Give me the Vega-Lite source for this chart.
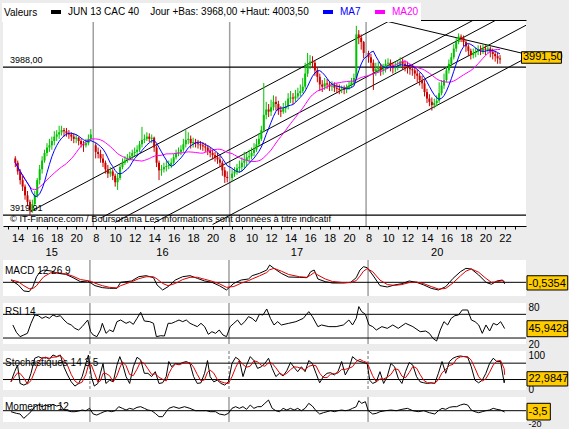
{
"$schema": "https://vega.github.io/schema/vega-lite/v6.json",
"background": "#ececec",
"padding": {"left": 2, "top": 3, "right": 0, "bottom": 0},
"config": {
 "font": "Liberation Sans",
 "view": {"stroke": null, "fill": "white"},
 "axis": {"labelFont": "Liberation Sans", "labelFontSize": 10, "labelColor": "black", "domainColor": "black", "tickColor": "black", "titleFont": "Liberation Sans", "labelOverlap": false},
 "text": {"font": "Liberation Sans", "color": "black"}
},
"datasets": {
 "seps": [{"t": 13.75}, {"t": 27.75}, {"t": 41.75}],
 "levels": [{"v": 3988, "label": "3988,00"}, {"v": 3919.91, "label": "3919,91"}],
 "trend": [
  {"t1": 7.3, "v1": 3921.5, "t2": 60, "v2": 4047},
  {"t1": 14.5, "v1": 3918.5, "t2": 60, "v2": 4026.8},
  {"t1": 16.0, "v1": 3916.6, "t2": 60, "v2": 4021.3},
  {"t1": 20.0, "v1": 3916.4, "t2": 60, "v2": 4011.6},
  {"t1": 26.0, "v1": 3915.6, "t2": 60, "v2": 3996.5},
  {"t1": 43.0, "v1": 4010, "t2": 57.65, "v2": 3994.5}
 ],
 "bars": [
{"t":5.75,"o":3946,"h":3947,"l":3942,"c":3944},
{"t":6,"o":3944,"h":3945,"l":3938.5,"c":3940},
{"t":6.25,"o":3940,"h":3941,"l":3934,"c":3936},
{"t":6.5,"o":3936,"h":3938,"l":3931,"c":3933},
{"t":6.75,"o":3933,"h":3934,"l":3927,"c":3929},
{"t":7,"o":3929,"h":3931,"l":3924,"c":3926},
{"t":7.25,"o":3926,"h":3927,"l":3919.91,"c":3922},
{"t":7.5,"o":3922,"h":3927,"l":3921,"c":3925},
{"t":7.75,"o":3925,"h":3931,"l":3924,"c":3929},
{"t":8,"o":3929,"h":3937,"l":3928,"c":3936},
{"t":8.25,"o":3936,"h":3943,"l":3934,"c":3941},
{"t":8.5,"o":3941,"h":3947,"l":3939,"c":3945},
{"t":8.75,"o":3945,"h":3950,"l":3944,"c":3948.5},
{"t":9,"o":3948.5,"h":3953,"l":3947,"c":3951},
{"t":9.25,"o":3951,"h":3955,"l":3949,"c":3952},
{"t":9.5,"o":3952,"h":3956,"l":3950,"c":3954},
{"t":9.75,"o":3954,"h":3958.5,"l":3952,"c":3956},
{"t":10,"o":3956,"h":3959,"l":3954,"c":3957},
{"t":10.25,"o":3957,"h":3961,"l":3955,"c":3958},
{"t":10.5,"o":3958,"h":3961,"l":3956.5,"c":3959},
{"t":10.75,"o":3959,"h":3960,"l":3956,"c":3958.5},
{"t":11,"o":3958.5,"h":3960,"l":3956,"c":3957.5},
{"t":11.25,"o":3957.5,"h":3959,"l":3955,"c":3957},
{"t":11.5,"o":3957,"h":3958,"l":3954,"c":3956},
{"t":11.75,"o":3956,"h":3957.5,"l":3953,"c":3955},
{"t":12,"o":3955,"h":3957,"l":3953,"c":3955.5},
{"t":12.25,"o":3955.5,"h":3956,"l":3952,"c":3954},
{"t":12.5,"o":3954,"h":3955,"l":3951,"c":3952.5},
{"t":12.75,"o":3952.5,"h":3954,"l":3949,"c":3952},
{"t":13,"o":3952,"h":3955,"l":3951,"c":3953},
{"t":13.25,"o":3953,"h":3957,"l":3952,"c":3955},
{"t":13.5,"o":3955,"h":3959.5,"l":3954,"c":3957},
{"t":14,"o":3952,"h":3953,"l":3946,"c":3949},
{"t":14.25,"o":3949,"h":3951,"l":3946,"c":3948},
{"t":14.5,"o":3948,"h":3950,"l":3944,"c":3946},
{"t":14.75,"o":3946,"h":3948,"l":3942,"c":3944},
{"t":15,"o":3944,"h":3945,"l":3939,"c":3941},
{"t":15.25,"o":3941,"h":3943,"l":3937,"c":3939},
{"t":15.5,"o":3939,"h":3942,"l":3937.5,"c":3940},
{"t":15.75,"o":3940,"h":3941,"l":3936,"c":3938},
{"t":16,"o":3938,"h":3939,"l":3933,"c":3935},
{"t":16.25,"o":3935,"h":3939,"l":3931.5,"c":3937},
{"t":16.5,"o":3937,"h":3943,"l":3936,"c":3942},
{"t":16.75,"o":3942,"h":3946,"l":3941,"c":3944},
{"t":17,"o":3944,"h":3947,"l":3943,"c":3945},
{"t":17.25,"o":3945,"h":3948,"l":3944,"c":3946},
{"t":17.5,"o":3946,"h":3949,"l":3945,"c":3947},
{"t":17.75,"o":3947,"h":3950,"l":3945.5,"c":3948.5},
{"t":18,"o":3948.5,"h":3951,"l":3947,"c":3949},
{"t":18.25,"o":3949,"h":3952,"l":3948,"c":3950},
{"t":18.5,"o":3950,"h":3954,"l":3949,"c":3952.5},
{"t":18.75,"o":3952.5,"h":3960.5,"l":3951,"c":3954.5},
{"t":19,"o":3954.5,"h":3957,"l":3953,"c":3955},
{"t":19.25,"o":3955,"h":3958,"l":3954,"c":3956},
{"t":19.5,"o":3956,"h":3957.5,"l":3953.5,"c":3955},
{"t":19.75,"o":3955,"h":3957,"l":3953,"c":3955.5},
{"t":20,"o":3955.5,"h":3956,"l":3949,"c":3951},
{"t":20.25,"o":3951,"h":3952,"l":3942,"c":3944},
{"t":20.5,"o":3944,"h":3945,"l":3936,"c":3940.5},
{"t":20.75,"o":3940.5,"h":3943,"l":3938,"c":3941},
{"t":21,"o":3941,"h":3944,"l":3939.5,"c":3942},
{"t":21.25,"o":3942,"h":3945,"l":3940,"c":3942.5},
{"t":21.5,"o":3942.5,"h":3945,"l":3941,"c":3943},
{"t":21.75,"o":3943,"h":3946,"l":3941.5,"c":3944},
{"t":22,"o":3944,"h":3948,"l":3943,"c":3946.5},
{"t":22.25,"o":3946.5,"h":3950,"l":3945.5,"c":3948.5},
{"t":22.5,"o":3948.5,"h":3951,"l":3947,"c":3949},
{"t":22.75,"o":3949,"h":3952,"l":3947.5,"c":3950},
{"t":23,"o":3950,"h":3955,"l":3949,"c":3952.5},
{"t":23.25,"o":3952.5,"h":3959,"l":3951,"c":3954.5},
{"t":23.5,"o":3954.5,"h":3958,"l":3952.5,"c":3955},
{"t":23.75,"o":3955,"h":3956.5,"l":3950.5,"c":3953},
{"t":24,"o":3953,"h":3955.5,"l":3951,"c":3953.5},
{"t":24.25,"o":3953.5,"h":3955,"l":3951,"c":3953},
{"t":24.5,"o":3953,"h":3954.5,"l":3950.5,"c":3952.5},
{"t":24.75,"o":3952.5,"h":3954,"l":3950,"c":3952},
{"t":25,"o":3952,"h":3953.5,"l":3949.5,"c":3951.5},
{"t":25.25,"o":3951.5,"h":3953,"l":3949,"c":3951},
{"t":25.5,"o":3951,"h":3952,"l":3947.5,"c":3949.5},
{"t":25.75,"o":3949.5,"h":3951,"l":3946.5,"c":3948.5},
{"t":26,"o":3948.5,"h":3950,"l":3945.5,"c":3947.5},
{"t":26.25,"o":3947.5,"h":3949,"l":3944.5,"c":3946.5},
{"t":26.5,"o":3946.5,"h":3948.5,"l":3943.5,"c":3945.5},
{"t":26.75,"o":3945.5,"h":3947,"l":3942,"c":3944},
{"t":27,"o":3944,"h":3945,"l":3938,"c":3940.5},
{"t":27.25,"o":3940.5,"h":3942,"l":3934.7,"c":3937.5},
{"t":27.5,"o":3937.5,"h":3940,"l":3935,"c":3937},
{"t":28,"o":3937,"h":3941,"l":3935.5,"c":3939},
{"t":28.25,"o":3939,"h":3942,"l":3937.5,"c":3940},
{"t":28.5,"o":3940,"h":3943.5,"l":3938.5,"c":3941.5},
{"t":28.75,"o":3941.5,"h":3945,"l":3939.5,"c":3942},
{"t":29,"o":3942,"h":3946.5,"l":3940,"c":3944},
{"t":29.25,"o":3944,"h":3949,"l":3941,"c":3945},
{"t":29.5,"o":3945,"h":3948.5,"l":3942.5,"c":3946.5},
{"t":29.75,"o":3946.5,"h":3950,"l":3944,"c":3947},
{"t":30,"o":3947,"h":3951,"l":3945.5,"c":3948.5},
{"t":30.25,"o":3948.5,"h":3953,"l":3947,"c":3950},
{"t":30.5,"o":3950,"h":3955,"l":3949,"c":3952.5},
{"t":30.75,"o":3952.5,"h":3957.5,"l":3951.5,"c":3955},
{"t":31,"o":3955,"h":3961,"l":3954,"c":3959},
{"t":31.25,"o":3959,"h":3980.7,"l":3958,"c":3966},
{"t":31.5,"o":3966,"h":3972,"l":3964,"c":3968.5},
{"t":31.75,"o":3968.5,"h":3971,"l":3965,"c":3967.5},
{"t":32,"o":3967.5,"h":3973,"l":3965.5,"c":3969.5},
{"t":32.25,"o":3969.5,"h":3975,"l":3968,"c":3972},
{"t":32.5,"o":3972,"h":3974.5,"l":3968,"c":3971},
{"t":32.75,"o":3971,"h":3972.5,"l":3966,"c":3968},
{"t":33,"o":3968,"h":3970,"l":3965,"c":3967.5},
{"t":33.25,"o":3967.5,"h":3971.5,"l":3966.5,"c":3969},
{"t":33.5,"o":3969,"h":3972.5,"l":3967,"c":3970},
{"t":33.75,"o":3970,"h":3976,"l":3968.5,"c":3973.5},
{"t":34,"o":3973.5,"h":3977,"l":3971.5,"c":3974},
{"t":34.25,"o":3974,"h":3976,"l":3971,"c":3973.5},
{"t":34.5,"o":3973.5,"h":3977.5,"l":3972,"c":3974.5},
{"t":34.75,"o":3974.5,"h":3978.5,"l":3973.5,"c":3976},
{"t":35,"o":3976,"h":3980,"l":3974.5,"c":3977},
{"t":35.25,"o":3977,"h":3983,"l":3976,"c":3979},
{"t":35.5,"o":3979,"h":3990,"l":3978,"c":3985},
{"t":35.75,"o":3985,"h":3994.5,"l":3983.5,"c":3989},
{"t":36,"o":3989,"h":3993.5,"l":3987,"c":3990.5},
{"t":36.25,"o":3990.5,"h":3993,"l":3987.5,"c":3990},
{"t":36.5,"o":3990,"h":3991,"l":3984,"c":3986.5},
{"t":36.75,"o":3986.5,"h":3988,"l":3981,"c":3983.5},
{"t":37,"o":3983.5,"h":3985,"l":3977,"c":3980},
{"t":37.25,"o":3980,"h":3982,"l":3976.5,"c":3979},
{"t":37.5,"o":3979,"h":3983,"l":3977.5,"c":3980.5},
{"t":37.75,"o":3980.5,"h":3982.5,"l":3978,"c":3980},
{"t":38,"o":3980,"h":3981.5,"l":3977,"c":3979},
{"t":38.25,"o":3979,"h":3981.5,"l":3977,"c":3979.5},
{"t":38.5,"o":3979.5,"h":3981,"l":3976.5,"c":3978.5},
{"t":38.75,"o":3978.5,"h":3980.5,"l":3976,"c":3978},
{"t":39,"o":3978,"h":3980,"l":3975.5,"c":3977.5},
{"t":39.25,"o":3977.5,"h":3979.5,"l":3976,"c":3978},
{"t":39.5,"o":3978,"h":3979.5,"l":3975.5,"c":3977.5},
{"t":39.75,"o":3977.5,"h":3980,"l":3976,"c":3978.5},
{"t":40,"o":3978.5,"h":3981.5,"l":3977.5,"c":3979.5},
{"t":40.25,"o":3979.5,"h":3983,"l":3978.5,"c":3981},
{"t":40.5,"o":3981,"h":3985,"l":3980,"c":3983},
{"t":40.75,"o":3983,"h":4007,"l":3982,"c":4003},
{"t":41,"o":4003,"h":4005,"l":3998.5,"c":4001.5},
{"t":41.25,"o":4001.5,"h":4003,"l":3996,"c":3999.5},
{"t":41.5,"o":3999.5,"h":4000,"l":3992,"c":3994.5},
{"t":42,"o":3994.5,"h":3995.5,"l":3990,"c":3992.5},
{"t":42.25,"o":3992.5,"h":3994,"l":3987.5,"c":3990},
{"t":42.5,"o":3990,"h":3991.5,"l":3977.5,"c":3986},
{"t":42.75,"o":3986,"h":3990,"l":3984,"c":3987},
{"t":43,"o":3987,"h":3990.5,"l":3985.5,"c":3988},
{"t":43.25,"o":3988,"h":3989.5,"l":3984,"c":3986.5},
{"t":43.5,"o":3986.5,"h":3989.5,"l":3984.5,"c":3987},
{"t":43.75,"o":3987,"h":3991.5,"l":3985.5,"c":3989.5},
{"t":44,"o":3989.5,"h":3992,"l":3987.5,"c":3990},
{"t":44.25,"o":3990,"h":3991.5,"l":3986,"c":3988.5},
{"t":44.5,"o":3988.5,"h":3990,"l":3985,"c":3987.5},
{"t":44.75,"o":3987.5,"h":3990.5,"l":3985.5,"c":3988},
{"t":45,"o":3988,"h":3991,"l":3986.5,"c":3989},
{"t":45.25,"o":3989,"h":3992.5,"l":3987.5,"c":3990.5},
{"t":45.5,"o":3990.5,"h":3992,"l":3987,"c":3989.5},
{"t":45.75,"o":3989.5,"h":3991,"l":3986,"c":3988.5},
{"t":46,"o":3988.5,"h":3990.5,"l":3985,"c":3988},
{"t":46.25,"o":3988,"h":3989.5,"l":3984.5,"c":3987},
{"t":46.5,"o":3987,"h":3989,"l":3984,"c":3986.5},
{"t":46.75,"o":3986.5,"h":3988,"l":3982.5,"c":3985},
{"t":47,"o":3985,"h":3987,"l":3981,"c":3984},
{"t":47.25,"o":3984,"h":3985.5,"l":3979.5,"c":3982},
{"t":47.5,"o":3982,"h":3984,"l":3978,"c":3980.5},
{"t":47.75,"o":3980.5,"h":3982,"l":3974.5,"c":3976.5},
{"t":48,"o":3976.5,"h":3978,"l":3971.5,"c":3973.5},
{"t":48.25,"o":3973.5,"h":3975.5,"l":3970,"c":3972},
{"t":48.5,"o":3972,"h":3974,"l":3968,"c":3970.5},
{"t":48.75,"o":3970.5,"h":3973.5,"l":3969,"c":3971.5},
{"t":49,"o":3971.5,"h":3975,"l":3970,"c":3972.5},
{"t":49.25,"o":3972.5,"h":3981,"l":3971.5,"c":3976},
{"t":49.5,"o":3976,"h":3982,"l":3975,"c":3979.5},
{"t":49.75,"o":3979.5,"h":3985,"l":3978,"c":3982},
{"t":50,"o":3982,"h":3988,"l":3981,"c":3986.5},
{"t":50.25,"o":3986.5,"h":3991.5,"l":3985,"c":3989.5},
{"t":50.5,"o":3989.5,"h":3994.5,"l":3988,"c":3992.5},
{"t":50.75,"o":3992.5,"h":3998.5,"l":3991.5,"c":3996.5},
{"t":51,"o":3996.5,"h":4001.5,"l":3995,"c":3999.5},
{"t":51.25,"o":3999.5,"h":4003.5,"l":3998.5,"c":4002},
{"t":51.5,"o":4002,"h":4003,"l":3999.5,"c":4001.5},
{"t":51.75,"o":4001.5,"h":4002.5,"l":3997.5,"c":3999.5},
{"t":52,"o":3999.5,"h":4000.5,"l":3995,"c":3997.5},
{"t":52.25,"o":3997.5,"h":3998.5,"l":3993,"c":3995.5},
{"t":52.5,"o":3995.5,"h":3996.5,"l":3991.5,"c":3993.5},
{"t":52.75,"o":3993.5,"h":3996.5,"l":3992,"c":3994.5},
{"t":53,"o":3994.5,"h":3997,"l":3992.5,"c":3995},
{"t":53.25,"o":3995,"h":3998,"l":3993.5,"c":3996},
{"t":53.5,"o":3996,"h":3998,"l":3993.5,"c":3995.5},
{"t":53.75,"o":3995.5,"h":3998.5,"l":3994,"c":3996.5},
{"t":54,"o":3996.5,"h":3998,"l":3993.5,"c":3996},
{"t":54.25,"o":3996,"h":3998.5,"l":3994.5,"c":3996.5},
{"t":54.5,"o":3996.5,"h":3997.5,"l":3992.5,"c":3995},
{"t":54.75,"o":3995,"h":3996.5,"l":3991.5,"c":3994},
{"t":55,"o":3994,"h":3995.5,"l":3990.5,"c":3993},
{"t":55.25,"o":3993,"h":3994.5,"l":3989.5,"c":3992},
{"t":55.5,"o":3992,"h":3993.5,"l":3989.5,"c":3991.5}
 ],
 "macd": [
{"t":5.8,"m":0.83,"s":0.9},{"t":6.54,"m":-0.95,"s":0.2},{"t":7.09,"m":-3.1,"s":-1.2},{"t":7.64,"m":-3.33,"s":-2.3},{"t":8.01,"m":-1.55,"s":-2.2},{"t":8.38,"m":2.02,"s":-1.2},{"t":8.74,"m":3.81,"s":0.5},{"t":9.11,"m":4.4,"s":2.0},{"t":9.85,"m":4.05,"s":3.5},{"t":10.58,"m":3.21,"s":3.4},{"t":11.32,"m":2.86,"s":3.0},{"t":12.05,"m":1.67,"s":2.2},{"t":12.79,"m":0.24,"s":1.0},{"t":13.53,"m":0.48,"s":0.6},{"t":13.89,"m":-0.36,"s":0.3},{"t":14.26,"m":-1.19,"s":-0.3},{"t":15.0,"m":-1.9,"s":-1.2},{"t":15.73,"m":-2.14,"s":-1.8},{"t":16.47,"m":-2.14,"s":-2.0},{"t":16.84,"m":0,"s":-1.2},{"t":17.94,"m":0.48,"s":0.2},{"t":18.67,"m":2.02,"s":1.3},{"t":19.41,"m":2.38,"s":2.0},{"t":20.15,"m":1.67,"s":2.0},{"t":20.51,"m":-0.95,"s":1.2},{"t":21.07,"m":-2.74,"s":-0.4},{"t":21.62,"m":-1.55,"s":-1.2},{"t":22.35,"m":0.83,"s":-0.4},{"t":23.09,"m":2.02,"s":1.0},{"t":23.83,"m":2.38,"s":1.8},{"t":24.56,"m":1.43,"s":1.8},{"t":25.3,"m":0.48,"s":1.1},{"t":26.03,"m":0,"s":0.4},{"t":26.77,"m":-1.19,"s":-0.5},{"t":27.5,"m":-2.74,"s":-1.8},{"t":28.24,"m":-0.36,"s":-1.5},{"t":28.98,"m":0.83,"s":-0.3},{"t":29.71,"m":1.19,"s":0.6},{"t":30.08,"m":2.38,"s":1.2},{"t":30.81,"m":3.21,"s":2.3},{"t":31.55,"m":4.4,"s":3.5},{"t":31.84,"m":6.19,"s":4.5},{"t":32.28,"m":5.0,"s":5.0},{"t":33.02,"m":3.21,"s":4.0},{"t":33.76,"m":1.9,"s":2.8},{"t":34.86,"m":1.79,"s":2.0},{"t":35.6,"m":1.67,"s":1.8},{"t":35.97,"m":3.81,"s":2.6},{"t":36.33,"m":4.4,"s":3.5},{"t":36.7,"m":1.19,"s":2.6},{"t":37.44,"m":0.24,"s":1.2},{"t":38.17,"m":-0.24,"s":0.3},{"t":39.27,"m":-0.24,"s":-0.1},{"t":40.01,"m":0,"s":-0.1},{"t":40.56,"m":1.67,"s":0.6},{"t":40.93,"m":4.4,"s":2.2},{"t":41.29,"m":5.6,"s":4.0},{"t":41.66,"m":5.24,"s":4.9},{"t":42.22,"m":2.62,"s":3.8},{"t":42.95,"m":-1.19,"s":0.8},{"t":43.69,"m":-1.67,"s":-0.8},{"t":44.42,"m":-0.95,"s":-1.1},{"t":45.16,"m":-0.48,"s":-0.8},{"t":45.89,"m":0.48,"s":-0.1},{"t":46.63,"m":0,"s":0.1},{"t":47.37,"m":-0.95,"s":-0.5},{"t":48.1,"m":-2.14,"s":-1.5},{"t":48.84,"m":-2.74,"s":-2.4},{"t":49.57,"m":-1.55,"s":-2.2},{"t":50.31,"m":1.43,"s":-0.2},{"t":51.05,"m":3.81,"s":2.3},{"t":51.6,"m":5.0,"s":4.0},{"t":52.15,"m":4.76,"s":4.8},{"t":52.89,"m":2.62,"s":3.6},{"t":53.62,"m":0,"s":1.4},{"t":54.17,"m":-0.71,"s":0.0},{"t":54.73,"m":0.48,"s":0.2},{"t":55.28,"m":0.83,"s":0.6},{"t":55.5,"m":-0.54,"s":0.3}
 ],
 "rsi": [
{"t":5.99,"r":52.0},{"t":6.35,"r":39.6},{"t":6.72,"r":32.3},{"t":7.09,"r":35.1},{"t":7.46,"r":37.9},{"t":7.82,"r":54.8},{"t":8.19,"r":68.9},{"t":8.56,"r":67.7},{"t":8.93,"r":63.2},{"t":9.3,"r":66.1},{"t":9.66,"r":63.2},{"t":10.03,"r":68.9},{"t":10.4,"r":66.1},{"t":10.77,"r":67.7},{"t":11.14,"r":60.4},{"t":11.5,"r":54.8},{"t":11.87,"r":52.0},{"t":12.24,"r":46.3},{"t":12.61,"r":43.5},{"t":12.97,"r":49.2},{"t":13.53,"r":60.4},{"t":13.82,"r":40.7},{"t":14.08,"r":35.1},{"t":14.45,"r":32.3},{"t":14.81,"r":43.5},{"t":15.0,"r":54.8},{"t":15.37,"r":37.9},{"t":15.73,"r":43.5},{"t":16.1,"r":40.7},{"t":16.47,"r":57.6},{"t":16.84,"r":60.4},{"t":17.39,"r":54.8},{"t":17.76,"r":57.6},{"t":18.12,"r":53.1},{"t":18.49,"r":63.2},{"t":18.86,"r":73.4},{"t":19.23,"r":58.7},{"t":19.78,"r":57.6},{"t":20.15,"r":54.8},{"t":20.44,"r":32.3},{"t":20.88,"r":33.9},{"t":21.25,"r":33.4},{"t":21.62,"r":54.8},{"t":21.98,"r":54.8},{"t":22.35,"r":57.6},{"t":22.72,"r":60.4},{"t":23.09,"r":57.6},{"t":23.45,"r":60.4},{"t":23.83,"r":54.8},{"t":24.19,"r":52.0},{"t":24.56,"r":49.2},{"t":24.93,"r":54.8},{"t":25.3,"r":49.2},{"t":25.67,"r":36.2},{"t":26.03,"r":40.7},{"t":26.4,"r":37.9},{"t":26.77,"r":43.5},{"t":27.14,"r":35.1},{"t":27.5,"r":32.3},{"t":27.87,"r":49.2},{"t":28.24,"r":54.8},{"t":28.61,"r":60.4},{"t":28.98,"r":52.0},{"t":29.34,"r":57.6},{"t":29.71,"r":66.1},{"t":30.08,"r":63.2},{"t":30.45,"r":57.6},{"t":30.81,"r":70.0},{"t":31.18,"r":68.9},{"t":31.55,"r":79.0},{"t":31.92,"r":63.2},{"t":32.28,"r":52.0},{"t":32.65,"r":57.6},{"t":33.02,"r":52.0},{"t":33.76,"r":54.8},{"t":34.49,"r":57.6},{"t":35.23,"r":63.2},{"t":35.78,"r":74.5},{"t":36.15,"r":66.1},{"t":36.7,"r":49.2},{"t":37.07,"r":52.0},{"t":37.8,"r":49.2},{"t":38.54,"r":49.2},{"t":39.27,"r":52.0},{"t":39.82,"r":60.4},{"t":40.19,"r":52.0},{"t":40.56,"r":63.2},{"t":40.82,"r":83.0},{"t":41.11,"r":74.5},{"t":41.48,"r":70.0},{"t":41.85,"r":52.0},{"t":42.22,"r":49.2},{"t":42.58,"r":43.5},{"t":43.14,"r":49.2},{"t":43.69,"r":46.3},{"t":44.24,"r":52.0},{"t":44.79,"r":46.3},{"t":45.53,"r":54.8},{"t":46.26,"r":49.2},{"t":47.0,"r":40.7},{"t":47.55,"r":41.8},{"t":47.92,"r":37.9},{"t":48.29,"r":29.4},{"t":48.65,"r":24.9},{"t":49.02,"r":43.5},{"t":49.39,"r":57.6},{"t":49.76,"r":52.0},{"t":50.12,"r":63.2},{"t":50.49,"r":67.7},{"t":50.86,"r":68.9},{"t":51.23,"r":77.3},{"t":51.78,"r":77.3},{"t":52.15,"r":60.4},{"t":52.52,"r":57.6},{"t":52.89,"r":52.0},{"t":53.25,"r":37.9},{"t":53.62,"r":52.0},{"t":53.99,"r":41.8},{"t":54.36,"r":54.8},{"t":54.73,"r":52.0},{"t":55.1,"r":57.6},{"t":55.5,"r":45.94}
 ],
 "stoch": [
{"t":5.8,"k":18},{"t":6.17,"k":49},{"t":6.46,"k":69},{"t":6.72,"k":13},{"t":7.09,"k":8},{"t":7.46,"k":13},{"t":7.82,"k":44},{"t":8.19,"k":90},{"t":8.56,"k":95},{"t":8.93,"k":90},{"t":9.3,"k":93},{"t":9.66,"k":87},{"t":10.03,"k":100},{"t":10.4,"k":95},{"t":10.77,"k":100},{"t":11.13,"k":64},{"t":11.5,"k":39},{"t":11.87,"k":18},{"t":12.24,"k":5},{"t":12.61,"k":13},{"t":12.97,"k":34},{"t":13.34,"k":74},{"t":13.6,"k":100},{"t":13.89,"k":34},{"t":14.19,"k":5},{"t":14.55,"k":13},{"t":14.81,"k":44},{"t":15.07,"k":74},{"t":15.36,"k":13},{"t":15.73,"k":23},{"t":16.1,"k":18},{"t":16.47,"k":69},{"t":16.76,"k":95},{"t":17.02,"k":74},{"t":17.39,"k":34},{"t":17.75,"k":13},{"t":18.12,"k":64},{"t":18.49,"k":93},{"t":18.86,"k":85},{"t":19.23,"k":44},{"t":19.59,"k":44},{"t":19.96,"k":34},{"t":20.33,"k":49},{"t":20.7,"k":13},{"t":21.07,"k":15},{"t":21.43,"k":34},{"t":21.69,"k":80},{"t":21.98,"k":64},{"t":22.35,"k":74},{"t":22.72,"k":72},{"t":23.09,"k":77},{"t":23.46,"k":80},{"t":23.82,"k":74},{"t":24.19,"k":34},{"t":24.56,"k":13},{"t":24.93,"k":15},{"t":25.29,"k":44},{"t":25.59,"k":83},{"t":25.85,"k":34},{"t":26.21,"k":18},{"t":26.58,"k":23},{"t":26.95,"k":13},{"t":27.32,"k":8},{"t":27.69,"k":18},{"t":28.05,"k":74},{"t":28.42,"k":93},{"t":28.79,"k":85},{"t":29.16,"k":34},{"t":29.52,"k":69},{"t":29.89,"k":95},{"t":30.26,"k":83},{"t":30.63,"k":59},{"t":31.0,"k":64},{"t":31.36,"k":74},{"t":31.73,"k":90},{"t":32.1,"k":59},{"t":32.47,"k":34},{"t":32.83,"k":44},{"t":33.2,"k":36},{"t":33.57,"k":52},{"t":33.94,"k":77},{"t":34.31,"k":62},{"t":34.67,"k":49},{"t":35.04,"k":64},{"t":35.41,"k":49},{"t":35.78,"k":83},{"t":36.14,"k":74},{"t":36.51,"k":44},{"t":36.88,"k":15},{"t":37.25,"k":34},{"t":37.62,"k":44},{"t":37.98,"k":46},{"t":38.35,"k":39},{"t":38.72,"k":49},{"t":39.09,"k":80},{"t":39.46,"k":39},{"t":39.82,"k":59},{"t":40.19,"k":95},{"t":40.56,"k":85},{"t":40.93,"k":80},{"t":41.29,"k":77},{"t":41.66,"k":74},{"t":41.92,"k":23},{"t":42.21,"k":13},{"t":42.58,"k":18},{"t":42.95,"k":49},{"t":43.32,"k":13},{"t":43.68,"k":34},{"t":44.05,"k":74},{"t":44.42,"k":64},{"t":44.79,"k":29},{"t":45.16,"k":13},{"t":45.52,"k":49},{"t":45.89,"k":77},{"t":46.26,"k":69},{"t":46.63,"k":34},{"t":46.99,"k":18},{"t":47.36,"k":15},{"t":47.73,"k":13},{"t":48.1,"k":15},{"t":48.47,"k":13},{"t":48.83,"k":44},{"t":49.2,"k":80},{"t":49.57,"k":44},{"t":49.94,"k":80},{"t":50.3,"k":90},{"t":50.67,"k":95},{"t":51.04,"k":97},{"t":51.41,"k":95},{"t":51.78,"k":93},{"t":52.14,"k":64},{"t":52.51,"k":23},{"t":52.88,"k":15},{"t":53.25,"k":23},{"t":53.61,"k":44},{"t":53.98,"k":74},{"t":54.35,"k":90},{"t":54.72,"k":80},{"t":55.09,"k":80},{"t":55.45,"k":15},{"t":55.5,"k":22.98}
 ],
 "mom": [
{"t":5.8,"m":-2.4},{"t":6.35,"m":-6.5},{"t":6.72,"m":-8.1},{"t":7.09,"m":-18.7},{"t":7.46,"m":-10.6},{"t":7.82,"m":-2.4},{"t":8.19,"m":9.8},{"t":8.56,"m":13.8},{"t":8.93,"m":9.8},{"t":9.3,"m":13.8},{"t":9.66,"m":9.8},{"t":10.03,"m":15.4},{"t":10.4,"m":11.4},{"t":10.77,"m":13.8},{"t":11.13,"m":1.6},{"t":11.5,"m":0},{"t":11.87,"m":-2.4},{"t":12.24,"m":-2.4},{"t":12.61,"m":-0.8},{"t":12.97,"m":1.6},{"t":13.34,"m":0},{"t":13.71,"m":5.7},{"t":14.08,"m":-8.1},{"t":14.44,"m":-10.6},{"t":14.81,"m":-6.5},{"t":15.18,"m":-2.4},{"t":15.55,"m":0},{"t":15.92,"m":-2.4},{"t":16.28,"m":0},{"t":16.65,"m":9.8},{"t":17.02,"m":5.7},{"t":17.39,"m":1.6},{"t":17.75,"m":5.7},{"t":18.12,"m":3.3},{"t":18.49,"m":8.1},{"t":18.86,"m":9.8},{"t":19.23,"m":5.7},{"t":19.59,"m":1.6},{"t":19.96,"m":0},{"t":20.33,"m":-6.5},{"t":20.7,"m":-14.6},{"t":21.07,"m":-14.6},{"t":21.43,"m":-2.4},{"t":21.69,"m":5.7},{"t":22.17,"m":9.8},{"t":22.72,"m":5.7},{"t":23.27,"m":9.8},{"t":23.82,"m":5.7},{"t":24.37,"m":0},{"t":24.93,"m":0},{"t":25.48,"m":0},{"t":25.85,"m":-2.4},{"t":26.4,"m":-2.4},{"t":26.77,"m":-8.1},{"t":27.32,"m":-10.6},{"t":27.69,"m":-6.5},{"t":28.05,"m":5.7},{"t":28.42,"m":9.8},{"t":28.79,"m":5.7},{"t":29.16,"m":9.8},{"t":29.52,"m":3.3},{"t":29.89,"m":13.8},{"t":30.26,"m":5.7},{"t":30.63,"m":9.8},{"t":31.0,"m":9.8},{"t":31.36,"m":17.9},{"t":31.73,"m":26.0},{"t":32.1,"m":5.7},{"t":32.47,"m":0},{"t":32.83,"m":-2.4},{"t":33.2,"m":5.7},{"t":33.57,"m":1.6},{"t":33.94,"m":5.7},{"t":34.31,"m":1.6},{"t":34.67,"m":5.7},{"t":35.04,"m":0},{"t":35.41,"m":5.7},{"t":35.78,"m":17.9},{"t":36.14,"m":11.4},{"t":36.51,"m":0},{"t":36.88,"m":-8.1},{"t":37.25,"m":-4.9},{"t":37.62,"m":-2.4},{"t":37.98,"m":0},{"t":38.35,"m":-2.4},{"t":38.72,"m":0},{"t":39.09,"m":1.6},{"t":39.46,"m":0},{"t":39.82,"m":1.6},{"t":40.19,"m":5.7},{"t":40.56,"m":9.8},{"t":40.82,"m":24.4},{"t":41.11,"m":17.9},{"t":41.48,"m":22.0},{"t":41.77,"m":0},{"t":42.21,"m":-8.1},{"t":42.58,"m":-6.5},{"t":42.95,"m":-2.4},{"t":43.5,"m":0},{"t":44.05,"m":1.6},{"t":44.6,"m":0},{"t":45.16,"m":3.3},{"t":45.71,"m":5.7},{"t":46.26,"m":0},{"t":46.81,"m":-2.4},{"t":47.36,"m":0},{"t":47.92,"m":-4.9},{"t":48.47,"m":-8.1},{"t":48.83,"m":0},{"t":49.2,"m":5.7},{"t":49.57,"m":3.3},{"t":49.94,"m":8.1},{"t":50.3,"m":9.8},{"t":50.67,"m":9.8},{"t":51.04,"m":13.8},{"t":51.41,"m":16.3},{"t":51.78,"m":13.8},{"t":52.14,"m":1.6},{"t":52.51,"m":-2.4},{"t":52.88,"m":-4.9},{"t":53.25,"m":-2.4},{"t":53.61,"m":0},{"t":53.98,"m":1.6},{"t":54.35,"m":5.7},{"t":54.72,"m":3.3},{"t":55.09,"m":1.6},{"t":55.45,"m":-2.4},{"t":55.5,"m":-3.5}
 ]
},
"bounds": "flush",
"spacing": 34,
"vconcat": [
 {
  "width": 523, "height": 206,
  "resolve": {"axis": {"x": "independent"}},
  "layer": [
   {"data": {"name": "seps"}, "mark": {"type": "rule", "color": "#a0a0a0", "strokeWidth": 1.5},
    "encoding": {"x": {"field": "t", "type": "quantitative", "scale": {"domain": [5, 57.65], "nice": false, "zero": false},
      "axis": {"orient": "top", "domain": true, "domainColor": "black", "ticks": false, "labels": false, "title": null, "grid": false}}}},
   {"data": {"name": "levels"}, "mark": {"type": "rule", "color": "black", "strokeWidth": 1.2},
    "encoding": {"y": {"field": "v", "type": "quantitative", "scale": {"domain": [3914.9, 4009.65], "nice": false, "zero": false}, "axis": null}}},
   {"data": {"name": "trend"}, "mark": {"type": "rule", "color": "black", "strokeWidth": 1, "clip": true},
    "encoding": {"x": {"field": "t1", "type": "quantitative", "axis": null}, "x2": {"field": "t2"}, "y": {"field": "v1", "type": "quantitative", "axis": null}, "y2": {"field": "v2"}}},
   {"data": {"name": "bars"}, "mark": {"type": "rule", "strokeWidth": 1},
    "encoding": {
     "x": {"field": "t", "type": "quantitative",
      "axis": {"orient": "bottom", "values": [5,6,7,8,9,10,11,12,13,14,15,16,17,18,19,20,21,22,23,24,25,26,27,28,29,30,31,32,33,34,35,36,37,38,39,40,41,42,43,44,45,46,47,48,49,50,51,52,53,54,55,56,57],
       "labelExpr": "datum.value % 2 == 0 ? '' + (datum.value >= 42 ? datum.value - 34 : datum.value % 14 + 8) : ''",
       "domain": true, "ticks": true, "tickSize": 3, "labelPadding": 3, "labelFontSize": 11, "title": null, "grid": false, "labelFlush": false}},
     "y": {"field": "l", "type": "quantitative",
      "axis": {"orient": "right", "values": [3920,3930,3940,3950,3960,3970,3980,3990,4000],
       "labelExpr": "datum.value % 20 == 0 ? '' + datum.value : ''",
       "grid": true, "gridColor": "#dcdcdc", "gridOpacity": {"condition": {"test": "datum.value % 20 != 0 || datum.value == 3920", "value": 0}, "value": 1},
       "tickSize": -4, "labelPadding": 6, "title": null, "labelFontSize": 10}},
     "y2": {"field": "h"},
     "color": {"condition": {"test": "datum.c >= datum.o", "value": "#00c000"}, "value": "#c80000"}}},
   {"data": {"name": "bars"}, "mark": {"type": "bar", "size": 2},
    "encoding": {
     "x": {"field": "t", "type": "quantitative", "axis": null},
     "y": {"field": "o", "type": "quantitative", "axis": null},
     "y2": {"field": "c"},
     "color": {"condition": {"test": "datum.c >= datum.o", "value": "#00c000"}, "value": "#c80000"}}},
   {"data": {"name": "bars"},
    "transform": [
     {"window": [{"op": "mean", "field": "c", "as": "MA7"}], "frame": [-6, 0], "sort": [{"field": "t"}]},
     {"window": [{"op": "mean", "field": "c", "as": "MA20"}], "frame": [-19, 0], "sort": [{"field": "t"}]},
     {"fold": ["MA20", "MA7"], "as": ["series", "ma"]}
    ],
    "mark": {"type": "line", "strokeWidth": 1},
    "encoding": {
     "x": {"field": "t", "type": "quantitative",
      "axis": {"orient": "bottom", "values": [9.43, 20.8, 34.6, 49.0],
       "labelExpr": "datum.value < 13 ? '15' : datum.value < 27 ? '16' : datum.value < 41 ? '17' : '20'",
       "domain": false, "ticks": false, "labelPadding": 20, "labelFontSize": 11, "title": null, "grid": false, "labelFlush": false}},
     "y": {"field": "ma", "type": "quantitative", "axis": null},
     "detail": {"field": "series"},
     "color": {"field": "series", "type": "nominal",
      "scale": {"domain": ["JUN 13 CAC 40\u00a0\u00a0\u00a0\u00a0Jour +Bas: 3968,00 +Haut: 4003,50", "MA7", "MA20"], "range": ["#000000", "#0000ff", "#ff00ff"]},
      "legend": {"orient": "none", "legendX": -1, "legendY": -17, "direction": "horizontal",
       "title": "Valeurs", "titleOrient": "left", "titleFontSize": 10, "titleFontWeight": "normal", "titleFont": "Liberation Sans", "titleColor": "black", "titlePadding": 11, "titleBaseline": "middle",
       "labelFontSize": 10, "labelFont": "Liberation Sans",
       "labelColor": {"expr": "datum.value === 'MA7' ? '#0000ff' : (datum.value === 'MA20' ? '#ff00ff' : '#000000')"},
       "labelOffset": 5, "labelLimit": 1000,
       "labelExpr": "datum.value === 'MA20' ? 'MA20\u00a0\u00a0\u00a0\u00a0\u00a0\u00a0\u00a0\u00a0\u00a0\u00a0\u00a0\u00a0\u00a0\u00a0\u00a0\u00a0\u00a0\u00a0\u00a0\u00a0\u00a0\u00a0\u00a0\u00a0\u00a0\u00a0\u00a0\u00a0\u00a0\u00a0\u00a0\u00a0\u00a0\u00a0\u00a0\u00a0\u00a0' : datum.label",
       "symbolType": "stroke", "symbolSize": 100, "symbolStrokeWidth": 4, "columnPadding": 6,
       "fillColor": "white", "padding": 2}}}},
   {"data": {"name": "levels"}, "mark": {"type": "text", "align": "left", "baseline": "middle", "fontSize": 9, "dy": -7},
    "encoding": {"x": {"datum": 5.2, "type": "quantitative", "axis": null}, "y": {"field": "v", "type": "quantitative", "axis": null}, "text": {"field": "label"}}},
   {"data": {"values": [{"note": "\u00a9 IT-Finance.com / Boursorama Les informations sont donn\u00e9es \u00e0 titre indicatif"}]},
    "mark": {"type": "text", "align": "left", "baseline": "middle", "fontSize": 9.3},
    "encoding": {"x": {"datum": 5.2, "type": "quantitative", "axis": null}, "y": {"datum": 3918, "type": "quantitative", "axis": null}, "text": {"field": "note"}}},
   {"data": {"values": [{"v": 3991.5, "label": "3991,50"}]}, "mark": {"type": "rect", "fill": "#ffcc00", "stroke": "black", "strokeWidth": 1},
    "encoding": {"x": {"datum": 57.7, "type": "quantitative", "axis": null}, "x2": {"datum": 61.8}, "y": {"datum": 3995.05, "type": "quantitative", "axis": null}, "y2": {"datum": 3989.75}}},
   {"data": {"values": [{"v": 3991.5, "label": "3991,50"}]}, "mark": {"type": "text", "align": "left", "baseline": "middle", "fontSize": 11, "dy": -2},
    "encoding": {"x": {"datum": 57.85, "type": "quantitative", "axis": null}, "y": {"field": "v", "type": "quantitative", "axis": null}, "text": {"field": "label"}}}
  ]
 },
 {
  "bounds": "flush",
  "spacing": 7,
  "vconcat": [
   {
    "width": 523, "height": 36,
    "layer": [
     {"data": {"name": "seps"}, "mark": {"type": "rule", "color": "#a0a0a0", "strokeWidth": 1.5},
      "encoding": {"x": {"field": "t", "type": "quantitative", "scale": {"domain": [5, 57.65], "nice": false, "zero": false},
       "axis": {"orient": "bottom", "domain": true, "domainColor": "black", "ticks": false, "labels": false, "title": null, "grid": false}}}},
     {"data": {"name": "macd"}, "mark": {"type": "line", "color": "black", "strokeWidth": 1},
      "encoding": {"x": {"field": "t", "type": "quantitative", "axis": null},
       "y": {"field": "m", "type": "quantitative", "scale": {"domain": [-4.9, 8], "nice": false, "zero": false},
        "axis": {"orient": "right", "values": [0, 5], "labels": false, "domain": true, "tickSize": -4, "title": null, "grid": false}}}},
     {"data": {"values": [{"v": 0}]}, "mark": {"type": "rule", "color": "black"},
      "encoding": {"y": {"field": "v", "type": "quantitative", "axis": null}}},
     {"data": {"name": "macd"}, "mark": {"type": "line", "color": "#e00000", "strokeWidth": 1},
      "encoding": {"x": {"field": "t", "type": "quantitative", "axis": null}, "y": {"field": "s", "type": "quantitative", "axis": null}}},
     {"data": {"values": [{"name": "MACD 12 26 9"}]}, "mark": {"type": "text", "align": "left", "baseline": "middle", "fontSize": 10},
      "encoding": {"x": {"datum": 5.2, "type": "quantitative", "axis": null}, "y": {"datum": 4.1, "type": "quantitative", "axis": null}, "text": {"field": "name"}}},
     {"data": {"values": [{"v": -0.5354}]}, "mark": {"type": "rect", "fill": "#ffcc00", "stroke": "black", "strokeWidth": 1},
      "encoding": {"x": {"datum": 57.75, "type": "quantitative", "axis": null}, "x2": {"datum": 61.85}, "y": {"datum": 2.36, "type": "quantitative", "axis": null}, "y2": {"datum": -2.75}}},
     {"data": {"values": [{"v": -0.5354, "label": "-0,5354"}]}, "mark": {"type": "text", "align": "left", "baseline": "middle", "fontSize": 11},
      "encoding": {"x": {"datum": 57.9, "type": "quantitative", "axis": null}, "y": {"field": "v", "type": "quantitative", "axis": null}, "text": {"field": "label"}}}
    ]
   },
   {
    "width": 523, "height": 41,
    "layer": [
     {"data": {"name": "seps"}, "mark": {"type": "rule", "color": "#a0a0a0", "strokeWidth": 1.5},
      "encoding": {"x": {"field": "t", "type": "quantitative", "scale": {"domain": [5, 57.65], "nice": false, "zero": false},
       "axis": {"orient": "bottom", "domain": true, "domainColor": "black", "ticks": false, "labels": false, "title": null, "grid": false}}}},
     {"data": {"name": "rsi"}, "mark": {"type": "line", "color": "black", "strokeWidth": 1},
      "encoding": {"x": {"field": "t", "type": "quantitative", "axis": null},
       "y": {"field": "r", "type": "quantitative", "scale": {"domain": [19.9, 89.1], "nice": false, "zero": false},
        "axis": {"orient": "right", "values": [20, 40, 60, 80], "labels": false, "domain": true, "tickSize": -4, "title": null, "grid": true, "gridColor": "#dcdcdc"}}}},
     {"data": {"values": [{"v": 70}, {"v": 30}]}, "mark": {"type": "rule", "color": "black"},
      "encoding": {"y": {"field": "v", "type": "quantitative", "axis": null}}},
     {"data": {"values": [{"name": "RSI 14"}]}, "mark": {"type": "text", "align": "left", "baseline": "middle", "fontSize": 10},
      "encoding": {"x": {"datum": 5.2, "type": "quantitative", "axis": null}, "y": {"datum": 73.4, "type": "quantitative", "axis": null}, "text": {"field": "name"}}},
     {"data": {"values": [{"tick": "80"}]}, "mark": {"type": "text", "align": "left", "baseline": "middle", "fontSize": 10},
      "encoding": {"x": {"datum": 57.9, "type": "quantitative", "axis": null}, "y": {"datum": 80, "type": "quantitative", "axis": null}, "text": {"field": "tick"}}},
     {"data": {"values": [{"tick": "20"}]}, "mark": {"type": "text", "align": "left", "baseline": "middle", "fontSize": 10},
      "encoding": {"x": {"datum": 57.9, "type": "quantitative", "axis": null}, "y": {"datum": 18.2, "type": "quantitative", "axis": null}, "text": {"field": "tick"}}},
     {"data": {"values": [{"v": 45.9428}]}, "mark": {"type": "rect", "fill": "#ffcc00", "stroke": "black", "strokeWidth": 1},
      "encoding": {"x": {"datum": 57.75, "type": "quantitative", "axis": null}, "x2": {"datum": 61.85}, "y": {"datum": 59.2, "type": "quantitative", "axis": null}, "y2": {"datum": 32.2}}},
     {"data": {"values": [{"v": 45.9428, "label": "45,9428"}]}, "mark": {"type": "text", "align": "left", "baseline": "middle", "fontSize": 11},
      "encoding": {"x": {"datum": 57.9, "type": "quantitative", "axis": null}, "y": {"field": "v", "type": "quantitative", "axis": null}, "text": {"field": "label"}}}
    ]
   },
   {
    "width": 523, "height": 39,
    "layer": [
     {"data": {"name": "seps"}, "mark": {"type": "rule", "color": "#a0a0a0", "strokeWidth": 1.5, "strokeDash": [3, 2]},
      "encoding": {"x": {"field": "t", "type": "quantitative", "scale": {"domain": [5, 57.65], "nice": false, "zero": false},
       "axis": {"orient": "bottom", "domain": true, "domainColor": "black", "ticks": false, "labels": false, "title": null, "grid": false}}}},
     {"data": {"name": "stoch"}, "mark": {"type": "line", "color": "black", "strokeWidth": 1},
      "encoding": {"x": {"field": "t", "type": "quantitative", "axis": null},
       "y": {"field": "k", "type": "quantitative", "scale": {"domain": [-7, 112.2], "nice": false, "zero": false},
        "axis": {"orient": "right", "values": [0, 50, 100], "labels": false, "domain": true, "tickSize": -4, "title": null, "grid": false}}}},
     {"data": {"values": [{"v": 75}, {"v": 25}]}, "mark": {"type": "rule", "color": "black"},
      "encoding": {"y": {"field": "v", "type": "quantitative", "axis": null}}},
     {"data": {"name": "stoch"},
      "transform": [{"window": [{"op": "mean", "field": "k", "as": "d"}], "frame": [-2, 0], "sort": [{"field": "t"}]}],
      "mark": {"type": "line", "color": "#e00000", "strokeWidth": 1},
      "encoding": {"x": {"field": "t", "type": "quantitative", "axis": null}, "y": {"field": "d", "type": "quantitative", "axis": null}}},
     {"data": {"values": [{"name": "Stochastiques 14 3 5"}]}, "mark": {"type": "text", "align": "left", "baseline": "middle", "fontSize": 10},
      "encoding": {"x": {"datum": 5.2, "type": "quantitative", "axis": null}, "y": {"datum": 76.5, "type": "quantitative", "axis": null}, "text": {"field": "name"}}},
     {"data": {"values": [{"tick": "100"}]}, "mark": {"type": "text", "align": "left", "baseline": "middle", "fontSize": 10},
      "encoding": {"x": {"datum": 57.9, "type": "quantitative", "axis": null}, "y": {"datum": 98, "type": "quantitative", "axis": null}, "text": {"field": "tick"}}},
     {"data": {"values": [{"tick": "0"}]}, "mark": {"type": "text", "align": "left", "baseline": "middle", "fontSize": 10},
      "encoding": {"x": {"datum": 57.9, "type": "quantitative", "axis": null}, "y": {"datum": -7, "type": "quantitative", "axis": null}, "text": {"field": "tick"}}},
     {"data": {"values": [{"v": 22.9847}]}, "mark": {"type": "rect", "fill": "#ffcc00", "stroke": "black", "strokeWidth": 1},
      "encoding": {"x": {"datum": 57.75, "type": "quantitative", "axis": null}, "x2": {"datum": 61.85}, "y": {"datum": 48.9, "type": "quantitative", "axis": null}, "y2": {"datum": 5.2}}},
     {"data": {"values": [{"v": 22.9847, "label": "22,9847"}]}, "mark": {"type": "text", "align": "left", "baseline": "middle", "fontSize": 11, "dy": -1},
      "encoding": {"x": {"datum": 57.9, "type": "quantitative", "axis": null}, "y": {"field": "v", "type": "quantitative", "axis": null}, "text": {"field": "label"}}}
    ]
   },
   {
    "width": 523, "height": 25,
    "layer": [
     {"data": {"name": "seps"}, "mark": {"type": "rule", "color": "#a0a0a0", "strokeWidth": 1.5},
      "encoding": {"x": {"field": "t", "type": "quantitative", "scale": {"domain": [5, 57.65], "nice": false, "zero": false},
       "axis": {"orient": "bottom", "domain": true, "domainColor": "black", "ticks": false, "labels": false, "title": null, "grid": false}}}},
     {"data": {"name": "mom"}, "mark": {"type": "line", "color": "black", "strokeWidth": 1},
      "encoding": {"x": {"field": "t", "type": "quantitative", "axis": null},
       "y": {"field": "m", "type": "quantitative", "scale": {"domain": [-27.6, 33.4], "nice": false, "zero": false},
        "axis": {"orient": "right", "values": [-20, -10, 10, 20], "labels": false, "domain": true, "tickSize": -4, "title": null, "grid": false}}}},
     {"data": {"values": [{"v": 0}]}, "mark": {"type": "rule", "color": "black"},
      "encoding": {"y": {"field": "v", "type": "quantitative", "axis": null}}},
     {"data": {"values": [{"name": "Momentum 12"}]}, "mark": {"type": "text", "align": "left", "baseline": "middle", "fontSize": 10},
      "encoding": {"x": {"datum": 5.2, "type": "quantitative", "axis": null}, "y": {"datum": 9.8, "type": "quantitative", "axis": null}, "text": {"field": "name"}}},
     {"data": {"values": [{"tick": "-20"}]}, "mark": {"type": "text", "align": "left", "baseline": "middle", "fontSize": 9},
      "encoding": {"x": {"datum": 57.9, "type": "quantitative", "axis": null}, "y": {"datum": -31.5, "type": "quantitative", "axis": null}, "text": {"field": "tick"}}},
     {"data": {"values": [{"v": -3.5}]}, "mark": {"type": "rect", "fill": "#ffcc00", "stroke": "black", "strokeWidth": 1},
      "encoding": {"x": {"datum": 57.75, "type": "quantitative", "axis": null}, "x2": {"datum": 60.1}, "y": {"datum": 18.0, "type": "quantitative", "axis": null}, "y2": {"datum": -22.7}}},
     {"data": {"values": [{"v": -3.5, "label": "-3,5"}]}, "mark": {"type": "text", "align": "left", "baseline": "middle", "fontSize": 11},
      "encoding": {"x": {"datum": 57.9, "type": "quantitative", "axis": null}, "y": {"field": "v", "type": "quantitative", "axis": null}, "text": {"field": "label"}}}
    ]
   }
  ]
 }
]
}
